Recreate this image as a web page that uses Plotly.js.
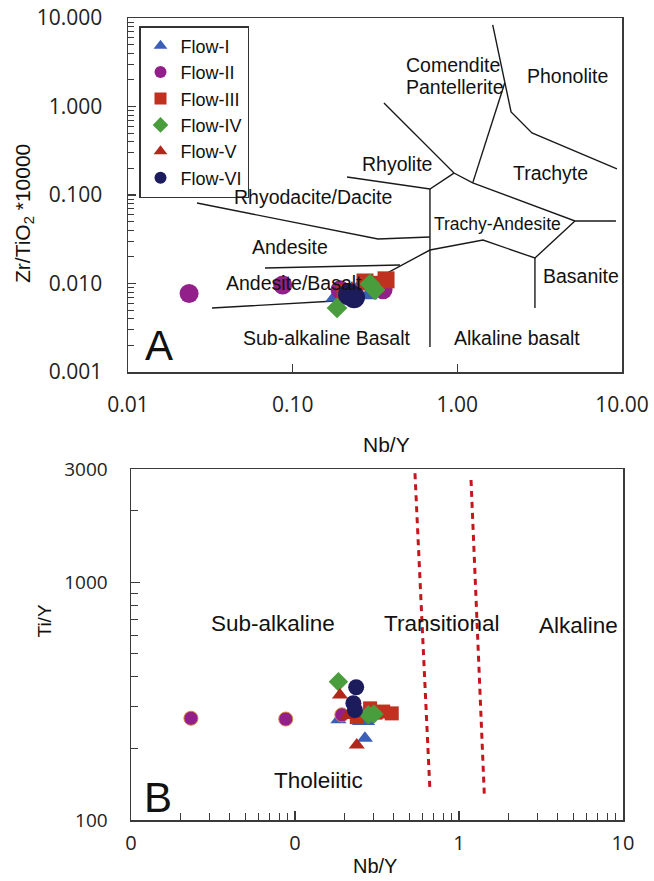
<!DOCTYPE html>
<html><head><meta charset="utf-8">
<script src="https://cdn.plot.ly/plotly-3.0.1.min.js"></script>
<style>html,body{margin:0;padding:0;background:#fff}</style>
</head><body><div id="chart" style="width:654px;height:881px"></div>
<script>
// ---------- series names / styles ----------
const flowNames   = ['Flow-I','Flow-II','Flow-III','Flow-IV','Flow-V','Flow-VI'];
const flowColors  = ['#3b5fb7','#931f8a','#c1311f','#4a9d3c','#b3261b','#1c1b5c'];
const flowSymbols = ['triangle-up','circle','square','diamond','triangle-up','circle'];

// ---------- panel A : Zr/TiO2*10000 vs Nb/Y ----------
const aNbY_I   = [0.264, 0.287, 0.181];
const aZr_I    = [0.0101, 0.0074, 0.0070];
const aNbY_II  = [0.0235, 0.087, 0.194, 0.354];
const aZr_II   = [0.0077, 0.0096, 0.0085, 0.0085];
const aNbY_III = [0.369, 0.275, 0.208, 0.320];
const aZr_III  = [0.0110, 0.0104, 0.0080, 0.0098];
const aNbY_IV  = [0.186, 0.316, 0.295];
const aZr_IV   = [0.0053, 0.0085, 0.0099];
const aNbY_V   = [0.229];
const aZr_V    = [0.0085];
const aNbY_VI  = [0.236, 0.220];
const aZr_VI   = [0.0070, 0.0075];

// field boundaries (Winchester & Floyd) as polylines
const fieldLinesX = [
  [1.64, 2.12, 2.84, 9.32],
  [1.94, 1.24],
  [0.3585, 0.954, 1.24, 5.18, 9.19],
  [0.2138, 0.682, 0.954],
  [0.682, 0.682],
  [0.02624, 0.33, 0.682],
  [0.0679, 0.4485],
  [0.03236, 0.1807, 0.682, 1.432, 2.96, 5.18],
  [2.96, 2.96]
];
const fieldLinesY = [
  [8.34, 0.867, 0.502, 0.197],
  [1.84, 0.137],
  [1.095, 0.177, 0.137, 0.0509, 0.0509],
  [0.160, 0.117, 0.177],
  [0.117, 0.00192],
  [0.0812, 0.0318, 0.0335],
  [0.01497, 0.0162],
  [0.00528, 0.00634, 0.0239, 0.031, 0.0194, 0.0509],
  [0.0194, 0.00528]
];
const aXTickVals = [0.01, 0.1, 1, 10];
const aXTickText = ['0.01', '0.10', '1.00', '10.00'];
const aYTickVals = [0.001, 0.01, 0.1, 1, 10];
const aYTickText = ['0.001', '0.010', '0.100', '1.000', '10.000'];

// ---------- panel B : Ti/Y vs Nb/Y ----------
const bNbY_I   = [0.184, 0.249, 0.267, 0.275];
const bTiY_I   = [264, 260, 221, 260];
const bNbY_II  = [0.0232, 0.0878, 0.193];
const bTiY_II  = [268, 266, 277];
const bNbY_III = [0.345, 0.389, 0.287, 0.238, 0.310];
const bTiY_III = [286, 281, 295, 271, 283];
const bNbY_IV  = [0.184, 0.280, 0.303];
const bTiY_IV  = [382, 277, 279];
const bNbY_V   = [0.188, 0.238, 0.210];
const bTiY_V   = [336, 207, 275];
const bNbY_VI  = [0.236, 0.227, 0.232];
const bTiY_VI  = [362, 310, 290];

const divLine1X = [0.539, 0.6655];
const divLine1Y = [2878, 131.6];
const divLine2X = [1.184, 1.427];
const divLine2Y = [2698, 127.4];

const bXTickVals = [0.01, 0.1, 1, 10];
const bXTickText = ['0', '0', '1', '10'];
const bYTickVals = [100, 1000, 3000];
const bYTickText = ['100', '1000', '3000'];

// ---------- helpers ----------
const W = 654, H = 881;
const PX = x => x / W, PY = y => 1 - y / H;
const LBL = 'Liberation Sans, Arial, sans-serif';
const TICKF = 'Open Sans, sans-serif';
const AX = '#3a3a3a';

function minorVals(decades){ const v=[]; decades.forEach(d=>{for(let k=2;k<=9;k++) v.push(+(k*d).toPrecision(3));}); return v; }

const aX = [aNbY_I,aNbY_II,aNbY_III,aNbY_IV,aNbY_V,aNbY_VI];
const aY = [aZr_I,aZr_II,aZr_III,aZr_IV,aZr_V,aZr_VI];
const bX = [bNbY_I,bNbY_II,bNbY_III,bNbY_IV,bNbY_V,bNbY_VI];
const bY = [bTiY_I,bTiY_II,bTiY_III,bTiY_IV,bTiY_V,bTiY_VI];
const aSizes = [17, 19, 17, 16, 17, 22];
const bSizes = [14, 14, 14, 15, 14, 16];

const traces = [];
fieldLinesX.forEach((xs, i) => traces.push({
  x: xs, y: fieldLinesY[i], xaxis:'x', yaxis:'y', mode:'lines',
  line:{color:'#1a1a1a', width:1.4}, showlegend:false, hoverinfo:'skip'
}));
flowNames.forEach((n, i) => traces.push({
  x: aX[i], y: aY[i], xaxis:'x', yaxis:'y', mode:'markers', name:n,
  marker:{symbol:flowSymbols[i], color:flowColors[i], size:aSizes[i], line:{width:0}},
  legendgroup:n
}));
traces.push({x:divLine1X, y:divLine1Y, xaxis:'x2', yaxis:'y2', mode:'lines',
  line:{color:'#c4161c', width:3, dash:'6px,5px'}, showlegend:false, hoverinfo:'skip'});
traces.push({x:divLine2X, y:divLine2Y, xaxis:'x2', yaxis:'y2', mode:'lines',
  line:{color:'#c4161c', width:3, dash:'6px,5px'}, showlegend:false, hoverinfo:'skip'});
flowNames.forEach((n, i) => traces.push({
  x: bX[i], y: bY[i], xaxis:'x2', yaxis:'y2', mode:'markers', name:n,
  marker:{symbol:flowSymbols[i], color:flowColors[i], size:bSizes[i],
          line: i===1 ? {width:1, color:'#d0843a'} : {width:0}},
  legendgroup:n, showlegend:false
}));

const labelsA = [
  ['Comendite', 404, 65, 19.5, 'left'], ['Pantellerite', 404, 87, 19.5, 'left'],
  ['Phonolite', 567.5, 76, 19.5], ['Rhyolite', 396.7, 164, 19.5],
  ['Trachyte', 550.5, 173, 19.5], ['Rhyodacite/Dacite', 313.3, 197, 19.5],
  ['Trachy-Andesite', 497.5, 224, 17.5], ['Andesite', 290, 247, 19.5],
  ['Andesite/Basalt', 294.2, 283, 19.5], ['Basanite', 580.5, 276, 19.5],
  ['Sub-alkaline Basalt', 327, 338, 19.5], ['Alkaline basalt', 516.5, 338, 19.5],
  ['A', 159, 345, 42],
  ['Sub-alkaline', 273, 623, 22.5], ['Transitional', 441.7, 623, 22.5],
  ['Alkaline', 578, 625, 22.5], ['Tholeiitic', 318, 780, 22.5],
  ['B', 158, 797, 42]
];
const annotations = labelsA.map(l => ({
  text:l[0], xref:'paper', yref:'paper', x:PX(l[1]), y:PY(l[2]),
  xanchor: l[4] || 'center', yanchor:'middle', showarrow:false,
  font:{family:LBL, size:l[3], color:'#111'}
}));
// axis titles
annotations.push({text:'Zr/TiO<sub>2</sub> *10000', xref:'paper', yref:'paper', x:PX(24), y:PY(214),
  textangle:-90, showarrow:false, xanchor:'center', yanchor:'middle', font:{family:LBL, size:21, color:'#111'}});
annotations.push({text:'Nb/Y', xref:'paper', yref:'paper', x:PX(386), y:PY(444),
  showarrow:false, xanchor:'center', yanchor:'middle', font:{family:LBL, size:21, color:'#111'}});
annotations.push({text:'Ti/Y', xref:'paper', yref:'paper', x:PX(43.5), y:PY(621),
  textangle:-90, showarrow:false, xanchor:'center', yanchor:'middle', font:{family:LBL, size:19, color:'#111'}});
annotations.push({text:'Nb/Y', xref:'paper', yref:'paper', x:PX(375), y:PY(866),
  showarrow:false, xanchor:'center', yanchor:'middle', font:{family:LBL, size:20, color:'#111'}});

const common = {showline:true, mirror:true, linecolor:AX, linewidth:1.5, showgrid:false, zeroline:false,
  ticks:'inside', tickcolor:AX, tickwidth:1.2, fixedrange:true};

const layout = {
  width:W, height:H, margin:{l:0,r:0,t:0,b:0}, paper_bgcolor:'#fff', plot_bgcolor:'#fff',
  showlegend:true,
  legend:{x:PX(139), y:PY(26), xanchor:'left', yanchor:'top', bgcolor:'#fff',
    bordercolor:'#333', borderwidth:1.5, font:{family:LBL, size:18, color:'#111'},
    itemsizing:'constant', tracegroupgap:0},
  xaxis: Object.assign({}, common, {type:'log', range:[-2,1], domain:[PX(128),PX(622)], anchor:'y',
    tickmode:'array', tickvals:aXTickVals, ticktext:aXTickText, ticklen:8,
    tickfont:{family:TICKF, size:21, color:'#222'}, ticklabelstandoff:13}),
  yaxis: Object.assign({}, common, {type:'log', range:[-3,1], domain:[PY(372),PY(18)], anchor:'x',
    tickmode:'array', tickvals:aYTickVals, ticktext:aYTickText, ticklen:8,
    tickfont:{family:TICKF, size:21, color:'#222'}, ticklabelstandoff:20,
    minor:{ticks:'inside', ticklen:6, tickcolor:AX, tickwidth:1, tickmode:'array',
      tickvals:minorVals([0.001,0.01,0.1,1])}}),
  xaxis2: Object.assign({}, common, {type:'log', range:[-2,1], domain:[PX(131),PX(623)], anchor:'y2',
    tickmode:'array', tickvals:bXTickVals, ticktext:bXTickText, ticklen:9,
    tickfont:{family:TICKF, size:20, color:'#222'}, ticklabelstandoff:4,
    minor:{ticks:'inside', ticklen:7, tickcolor:AX, tickwidth:1, tickmode:'array',
      tickvals:minorVals([0.01,0.1,1])}}),
  yaxis2: Object.assign({}, common, {type:'log', range:[2, Math.log10(3000)], domain:[PY(820),PY(469)], anchor:'x2',
    tickmode:'array', tickvals:bYTickVals, ticktext:bYTickText, ticklen:9,
    tickfont:{family:TICKF, size:19, color:'#222'}, ticklabelstandoff:18,
    minor:{ticks:'inside', ticklen:7, tickcolor:AX, tickwidth:1, tickmode:'array',
      tickvals:[200,300,400,500,600,700,800,900,2000]}}),
  annotations: annotations
};

Plotly.newPlot('chart', traces, layout, {staticPlot:true, displayModeBar:false});
</script></body></html>
